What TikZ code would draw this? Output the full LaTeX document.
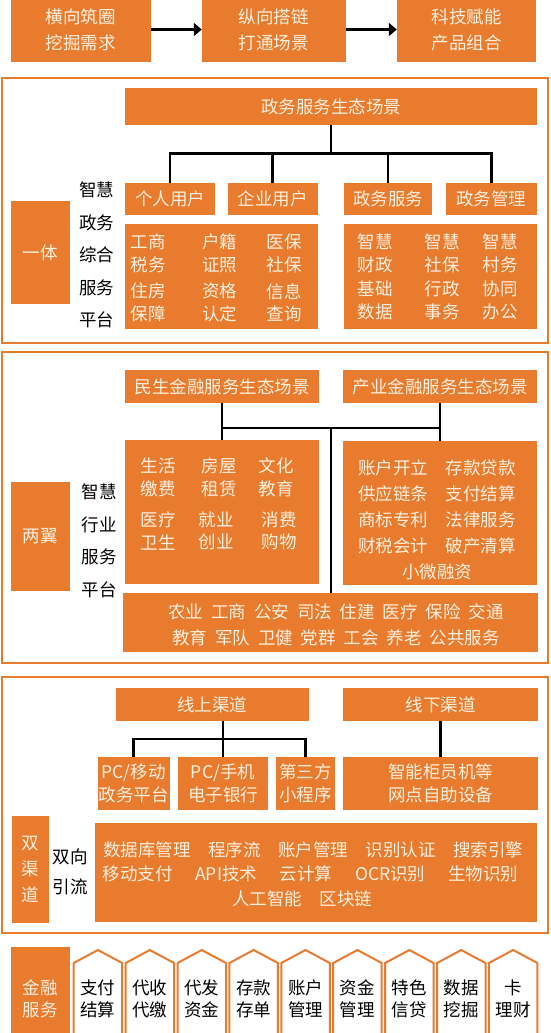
\documentclass[tikz,border=0pt]{standalone}
\usepackage{fontspec}
\setmainfont{Noto Sans CJK SC}
\usetikzlibrary{arrows.meta}

\definecolor{orng}{HTML}{E97B2F}
\definecolor{cream}{HTML}{FFF0DE}

\newcommand\fsa{\fontsize{17.5}{22.5}\selectfont}
\newcommand\fsb{\fontsize{17.5}{26}\selectfont}
\newcommand\fsc{\fontsize{17.5}{32.5}\selectfont}
\newcommand\gp{\hspace{0.45em}}

\tikzstyle{obox} = [rectangle, fill=orng, text=cream, inner sep=0pt, align=center, font=\fsb]
\tikzstyle{secframe} = [rectangle, draw=orng, line width=2pt, inner sep=0pt]
\tikzstyle{cell} = [text=cream, inner sep=0pt, align=center, font=\fsa]
\tikzstyle{sidetext} = [text=black, inner sep=0pt, align=center, font=\fsc]
\tikzstyle{link} = [draw=black, line width=2.6pt]
\tikzstyle{penta} = [draw=orng, line width=2pt, fill=white]

\begin{document}
\begin{tikzpicture}[x=1pt, y=-1pt]
\path[use as bounding box, fill=white] (0,0) rectangle (550,1033);

% top row
\node (hx) at (80.75,29.5) [obox, minimum width=140.5pt, minimum height=65pt] {横向筑圈\\挖掘需求};
\node (zx) at (273.75,29.5) [obox, minimum width=143.5pt, minimum height=65pt] {纵向搭链\\打通场景};
\node (kj) at (466.5,29.5) [obox, minimum width=139pt, minimum height=65pt] {科技赋能\\产品组合};
\draw[link, line width=3pt, -{Triangle[length=8pt,width=13pt]}] (hx.east) -- (zx.west);
\draw[link, line width=3pt, -{Triangle[length=8pt,width=13pt]}] (zx.east) -- (kj.west);

% section 1
\node (sec1) at (275,210.5) [secframe, minimum width=546pt, minimum height=265pt] {};
\node (zwt) at (331,106.5) [obox, minimum width=412pt, minimum height=37pt] {政务服务生态场景};
\node (gr) at (170,199) [obox, minimum width=90pt, minimum height=32pt] {个人用户};
\node (qy) at (272.75,199) [obox, minimum width=89.5pt, minimum height=32pt] {企业用户};
\node (zf) at (388,199) [obox, minimum width=88.5pt, minimum height=32pt] {政务服务};
\node (zg) at (491.3,199) [obox, minimum width=90.5pt, minimum height=32pt] {政务管理};
\draw[link] (zwt.south) -- ++(0,28) -| (gr.north);
\draw[link] (zwt.south) -- ++(0,28) -| (qy.north);
\draw[link] (zwt.south) -- ++(0,28) -| (zf.north);
\draw[link] (zwt.south) -- ++(0,28) -| (zg.north);

\node (lb1) at (221.5,276.5) [obox, minimum width=193pt, minimum height=105pt] {};
\node (rb1) at (440.5,276.5) [obox, minimum width=193pt, minimum height=105pt] {};
\node (l1a) at (148,253.5) [cell] {工商\\税务};
\node (l1b) at (219.5,253.5) [cell] {户籍\\证照};
\node (l1c) at (284,253.5) [cell] {医保\\社保};
\node (l1d) at (148,302.5) [cell] {住房\\保障};
\node (l1e) at (219.5,302.5) [cell] {资格\\认定};
\node (l1f) at (284,302.5) [cell] {信息\\查询};
\node (r1a) at (375,253.5) [cell] {智慧\\财政};
\node (r1b) at (442,253.5) [cell] {智慧\\社保};
\node (r1c) at (500,253.5) [cell] {智慧\\村务};
\node (r1d) at (375,300.5) [cell] {基础\\数据};
\node (r1e) at (442,300.5) [cell] {行政\\事务};
\node (r1f) at (500,300.5) [cell] {协同\\办公};

\node (yt) at (40.25,252.5) [obox, minimum width=59.5pt, minimum height=103pt] {一体};
\node (zh1) at (96.5,255) [sidetext] {智慧\\政务\\综合\\服务\\平台};

% section 2
\node (sec2) at (275,507.5) [secframe, minimum width=546pt, minimum height=311pt] {};
\node (ms) at (222,386.5) [obox, minimum width=194pt, minimum height=33pt] {民生金融服务生态场景};
\node (cy) at (440,386.5) [obox, minimum width=194pt, minimum height=33pt] {产业金融服务生态场景};
\node (lb2) at (222,512) [obox, minimum width=194pt, minimum height=144pt] {};
\node (rb2) at (440,513) [obox, minimum width=194pt, minimum height=144pt] {};
\node (bb2) at (330.5,622.5) [obox, minimum width=415pt, minimum height=59pt] {};
\coordinate (hub2) at (331,428);
\draw[link] (ms.south) -- (lb2.north);
\draw[link] (cy.south) -- (rb2.north);
\draw[link] (ms.south |- hub2) -- (cy.south |- hub2);
\draw[link] (hub2) -- (hub2 |- bb2.north);

\node (l2a) at (158,477.5) [cell] {生活\\缴费};
\node (l2b) at (219,477.5) [cell] {房屋\\租赁};
\node (l2c) at (276,477.5) [cell] {文化\\教育};
\node (l2d) at (158,531) [cell] {医疗\\卫生};
\node (l2e) at (216,531) [cell] {就业\\创业};
\node (l2f) at (279,531) [cell] {消费\\购物};
\node (rt2) at (437,520) [cell, font=\fsb] {账户开立\quad 存款贷款\\供应链条\quad 支付结算\\商标专利\quad 法律服务\\财税会计\quad 破产清算\\小微融资};
\node (bt2) at (336,625) [cell, font=\fsb] {农业\gp 工商\gp 公安\gp 司法\gp 住建\gp 医疗\gp 保险\gp 交通\\教育\gp 军队\gp 卫健\gp 党群\gp 工会\gp 养老\gp 公共服务};

\node (ly) at (40.25,536.5) [obox, minimum width=59.5pt, minimum height=109pt] {两翼};
\node (zh2) at (99,541) [sidetext] {智慧\\行业\\服务\\平台};

% section 3
\node (sec3) at (275,805) [secframe, minimum width=546pt, minimum height=256pt] {};
\node (xs) at (212.3,704.5) [obox, minimum width=192.6pt, minimum height=33pt] {线上渠道};
\node (xx) at (440.5,704.5) [obox, minimum width=195pt, minimum height=33pt] {线下渠道};
\node (pc) at (133.75,783.5) [obox, minimum width=72.5pt, minimum height=53pt, font=\fsa] {PC/移动\\政务平台};
\node (sj) at (223,783.5) [obox, minimum width=90pt, minimum height=53pt, font=\fsa] {PC/手机\\电子银行};
\node (dsf) at (305.5,783.5) [obox, minimum width=59pt, minimum height=53pt, font=\fsa] {第三方\\小程序};
\node (zn) at (440.5,783.5) [obox, minimum width=195pt, minimum height=53pt, font=\fsa] {智能柜员机等\\网点自助设备};
\draw[link] (xs.south -| sj.north) -- (sj.north);
\draw[link] (pc.north) -- ++(0,-18) -| (dsf.north);
\draw[link] (xx.south) -- (zn.north);

\node (js) at (315.65,872.5) [obox, minimum width=442pt, minimum height=99pt] {};
\node (jt1) at (313,850) [cell, font=\fsb] {数据库管理\quad 程序流\quad 账户管理\quad 识别认证\quad 搜索引擎};
\node (jt2) at (310.4,873.5) [cell, font=\fsb] {移动支付\hspace{1.3em}API技术\hspace{1.3em}云计算\hspace{1.3em}OCR识别\hspace{1.3em}生物识别};
\node (jt3) at (302,899) [cell, font=\fsb] {人工智能\quad 区块链};
\node (sq) at (30.3,869.5) [obox, minimum width=37.4pt, minimum height=107pt] {双\\渠\\道};
\node (sx) at (70,872) [sidetext, font=\fontsize{17.5}{30}\selectfont] {双向\\引流};

% bottom strip
\node (jr) at (40.25,999) [obox, minimum width=59.5pt, minimum height=104pt, font=\fsa] {金融\\服务};
\foreach \txt [count=\i from 0] in {支付\\结算, 代收\\代缴, 代发\\资金, 存款\\存单, 账户\\管理, 资金\\管理, 特色\\信贷, 数据\\挖掘, 卡\\理财} {
  \pgfmathsetmacro\px{73.7+51.9*\i}
  \draw[penta] (\px,1040) -- (\px,963) -- (\px+24.25,950) -- (\px+48.5,963) -- (\px+48.5,1040);
  \node (jf\i) at (\px+24.25,999) [text=black, inner sep=0pt, align=center, font=\fsa] {\txt};
}
\end{tikzpicture}
\end{document}
